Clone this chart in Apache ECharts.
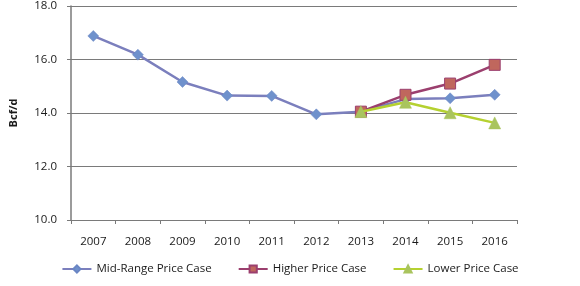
<!DOCTYPE html>
<html><head><meta charset="utf-8">
<script src="https://cdn.jsdelivr.net/npm/echarts@6/dist/echarts.min.js"></script>
<style>html,body{margin:0;padding:0;background:#fff}#c{width:580px;height:286px}</style>
</head><body><div id="c"></div>
<script>
const years = ['2007','2008','2009','2010','2011','2012','2013','2014','2015','2016'];
const midRange = [16.88, 16.18, 15.16, 14.65, 14.64, 13.95, 14.05, 14.52, 14.55, 14.68];
const higher = [null, null, null, null, null, null, 14.05, 14.68, 15.1, 15.8];
const lower = [null, null, null, null, null, null, 14.05, 14.4, 14.01, 13.63];
const yTicks = [10, 12, 14, 16, 18];

const font = '"Open Sans", sans-serif';
const chart = echarts.init(document.getElementById('c'));
chart.setOption({
  animation: false,
  grid: { left: 66, right: 63, top: 5, bottom: 66, containLabel: false },
  xAxis: {
    type: 'category', data: years, boundaryGap: true,
    axisLine: { lineStyle: { color: '#7a7a7a', width: 1.2 } },
    axisTick: { show: true, length: 4, alignWithLabel: false, lineStyle: { color: '#7a7a7a' } },
    axisLabel: { color: '#1a1a1a', fontFamily: font, fontSize: 11.5, margin: 16 }
  },
  yAxis: {
    type: 'value', min: yTicks[0], max: yTicks[yTicks.length - 1], interval: 2,
    name: 'Bcf/d', nameLocation: 'middle', nameGap: 52, nameRotate: 90,
    nameTextStyle: { color: '#1a1a1a', fontFamily: font, fontSize: 11, fontWeight: 'bold' },
    axisLine: { show: true, lineStyle: { color: '#7a7a7a', width: 1.5 } },
    axisTick: { show: true, length: 4, lineStyle: { color: '#7a7a7a' } },
    axisLabel: { color: '#1a1a1a', fontFamily: font, fontSize: 11.5, margin: 14,
      formatter: v => v.toFixed(1) },
    splitLine: { show: true, lineStyle: { color: '#7a7a7a', width: 1 } }
  },
  legend: {
    bottom: 6, left: 'center', itemWidth: 29, itemHeight: 9, itemGap: 26,
    textStyle: { color: '#1a1a1a', fontFamily: font, fontSize: 11.5 },
    data: ['Mid-Range Price Case', 'Higher Price Case', 'Lower Price Case']
  },
  series: [
    { name: 'Mid-Range Price Case', type: 'line', data: midRange,
      symbol: 'diamond', symbolSize: 11,
      lineStyle: { color: '#7b7fbd', width: 2.5 },
      itemStyle: { color: '#6f91cc', borderColor: '#6a86c4', borderWidth: 0.5 }, z: 2 },
    { name: 'Higher Price Case', type: 'line', data: higher,
      symbol: 'rect', symbolSize: 11,
      lineStyle: { color: '#9b3f6e', width: 2.5 },
      itemStyle: { color: '#c0675d', borderColor: '#9b3f6e', borderWidth: 1 }, z: 3 },
    { name: 'Lower Price Case', type: 'line', data: lower,
      symbol: 'triangle', symbolSize: 12,
      lineStyle: { color: '#b5d130', width: 2.5 },
      itemStyle: { color: '#a9c45e', borderColor: '#a9c45e', borderWidth: 0.5 }, z: 4 }
  ]
});
</script></body></html>
